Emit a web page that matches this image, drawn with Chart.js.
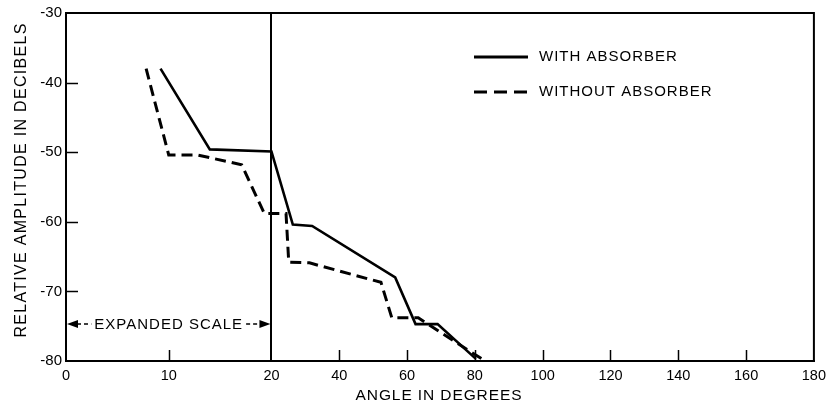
<!DOCTYPE html>
<html>
<head>
<meta charset="utf-8">
<script src="https://cdn.jsdelivr.net/npm/chart.js@4"></script>
<style>
html,body{margin:0;padding:0;background:#fff;}
#wrap{width:832px;height:407px;}
</style>
</head>
<body>
<div id="wrap"><canvas id="c" width="832" height="407"></canvas></div>
<script>
// ---- data ----
const angleWith    = [9.2, 14.0, 20.0, 26.3, 32.0, 56.5, 62.5, 69.0, 80.3];
const ampWith      = [-38.0, -49.6, -49.9, -60.4, -60.6, -68.0, -74.7, -74.7, -79.7];
const angleWithout = [7.8, 10.0, 12.8, 17.1, 19.3, 24.3, 25.1, 31.2, 52.3, 55.5, 63.3, 83.0];
const ampWithout   = [-38.0, -50.4, -50.4, -51.8, -58.8, -58.8, -65.8, -65.9, -68.7, -73.8, -73.8, -80.0];
const xTickValues  = [0, 10, 20, 40, 60, 80, 100, 120, 140, 160, 180];
const xTickLabels  = ['0', '10', '20', '40', '60', '80', '100', '120', '140', '160', '180'];
const yTickValues  = [-30, -40, -50, -60, -70, -80];
const seriesNames  = ['WITH ABSORBER', 'WITHOUT ABSORBER'];
const xTitle = 'ANGLE IN DEGREES';
const yTitle = 'RELATIVE AMPLITUDE IN DECIBELS';
const expandedLabel = 'EXPANDED SCALE';

// piecewise axis: 0-20 degrees expanded
const EXPAND = 3.03, BREAK = 20;
function u(x){ return x <= BREAK ? x * EXPAND : BREAK * EXPAND + (x - BREAK); }
function pts(xs, ys){ return xs.map((x, i) => ({x: u(x), y: ys[i]})); }

const FONT = '"Liberation Sans", Arial, Helvetica, sans-serif';

const decor = {
  id: 'decor',
  afterDraw(chart){
    const ctx = chart.ctx, a = chart.chartArea;
    const xs = chart.scales.x, ys = chart.scales.y;
    ctx.save();
    ctx.strokeStyle = '#000'; ctx.fillStyle = '#000';
    // top and right frame
    ctx.lineWidth = 2;
    ctx.beginPath();
    ctx.moveTo(a.left, a.top); ctx.lineTo(a.right, a.top); ctx.lineTo(a.right, a.bottom);
    ctx.stroke();
    // inward ticks
    ctx.lineWidth = 1.5;
    xTickValues.forEach(v => {
      if (v === 0 || v === 180 || v === 20) return;
      const px = Math.round(xs.getPixelForValue(u(v))) + 0.5;
      ctx.beginPath(); ctx.moveTo(px, a.bottom); ctx.lineTo(px, a.bottom - 11); ctx.stroke();
    });
    yTickValues.forEach(v => {
      if (v === -30 || v === -80) return;
      const py = Math.round(ys.getPixelForValue(v)) + 0.5;
      ctx.beginPath(); ctx.moveTo(a.left, py); ctx.lineTo(a.left + 12, py); ctx.stroke();
    });
    // axis titles
    ctx.letterSpacing = '0.9px';
    ctx.font = '15.5px ' + FONT;
    ctx.textAlign = 'center'; ctx.textBaseline = 'middle';
    ctx.fillText(xTitle, 439, 396);
    ctx.save();
    ctx.translate(22, 180);
    ctx.rotate(-Math.PI / 2);
    ctx.font = '16px ' + FONT;
    ctx.letterSpacing = '1.3px';
    ctx.fillText(yTitle, 0, 0);
    ctx.restore();
    // legend
    ctx.font = '15px ' + FONT;
    ctx.letterSpacing = '1px';
    ctx.textAlign = 'left';
    ctx.lineWidth = 3;
    ctx.beginPath(); ctx.moveTo(474, 57); ctx.lineTo(528, 57); ctx.stroke();
    ctx.fillText(seriesNames[0], 539, 57);
    ctx.setLineDash([13, 7]);
    ctx.beginPath(); ctx.moveTo(474, 92); ctx.lineTo(528, 92); ctx.stroke();
    ctx.setLineDash([]);
    ctx.fillText(seriesNames[1], 539, 92);
    // expanded scale annotation
    const x0 = xs.getPixelForValue(u(0)) + 1, x1 = xs.getPixelForValue(u(20)) - 1, yy = 324;
    ctx.textAlign = 'center';
    const mid = (x0 + x1) / 2;
    const tw = ctx.measureText(expandedLabel).width;
    ctx.fillText(expandedLabel, mid, yy + 1);
    ctx.lineWidth = 1.5;
    ctx.setLineDash([4, 3]);
    ctx.beginPath();
    ctx.moveTo(x0 + 10, yy); ctx.lineTo(mid - tw / 2 - 3, yy);
    ctx.moveTo(mid + tw / 2 + 3, yy); ctx.lineTo(x1 - 10, yy);
    ctx.stroke();
    ctx.setLineDash([]);
    ctx.beginPath();
    ctx.moveTo(x0, yy); ctx.lineTo(x0 + 11, yy - 4); ctx.lineTo(x0 + 11, yy + 4); ctx.closePath(); ctx.fill();
    ctx.beginPath();
    ctx.moveTo(x1, yy); ctx.lineTo(x1 - 11, yy - 4); ctx.lineTo(x1 - 11, yy + 4); ctx.closePath(); ctx.fill();
    ctx.restore();
  }
};

new Chart(document.getElementById('c'), {
  type: 'line',
  data: {
    datasets: [
      { label: seriesNames[0], data: pts(angleWith, ampWith), borderColor: '#000', borderWidth: 2.6,
        pointRadius: 0, tension: 0, fill: false },
      { label: seriesNames[1], data: pts(angleWithout, ampWithout), borderColor: '#000', borderWidth: 3,
        borderDash: [11, 6], pointRadius: 0, tension: 0, fill: false }
    ]
  },
  options: {
    responsive: false,
    animation: false,
    devicePixelRatio: 1,
    layout: { padding: { left: 0, top: 13, right: 17, bottom: 0 } },
    plugins: { legend: { display: false }, tooltip: { enabled: false } },
    scales: {
      x: {
        type: 'linear', min: 0, max: u(180),
        afterBuildTicks: s => { s.ticks = xTickValues.map(v => ({ value: u(v) })); },
        afterFit: s => { s.height = 46; },
        ticks: {
          autoSkip: false, maxRotation: 0, padding: 6, color: '#000',
          font: { family: FONT, size: 14.5 },
          callback: (val, idx) => xTickLabels[idx]
        },
        grid: {
          drawTicks: false,
          color: c => (c.tick && Math.abs(c.tick.value - u(20)) < 1e-6) ? '#000' : 'rgba(0,0,0,0)',
          lineWidth: 2
        },
        border: { display: true, color: '#000', width: 2 }
      },
      y: {
        type: 'linear', min: -80, max: -30,
        afterBuildTicks: s => { s.ticks = yTickValues.map(v => ({ value: v })); },
        afterFit: s => { s.width = 66; },
        ticks: {
          autoSkip: false, padding: 4, color: '#000',
          font: { family: FONT, size: 15 },
          callback: v => String(v)
        },
        grid: { display: false, drawTicks: false },
        border: { display: true, color: '#000', width: 2 }
      }
    }
  },
  plugins: [decor]
});
</script>
</body>
</html>
